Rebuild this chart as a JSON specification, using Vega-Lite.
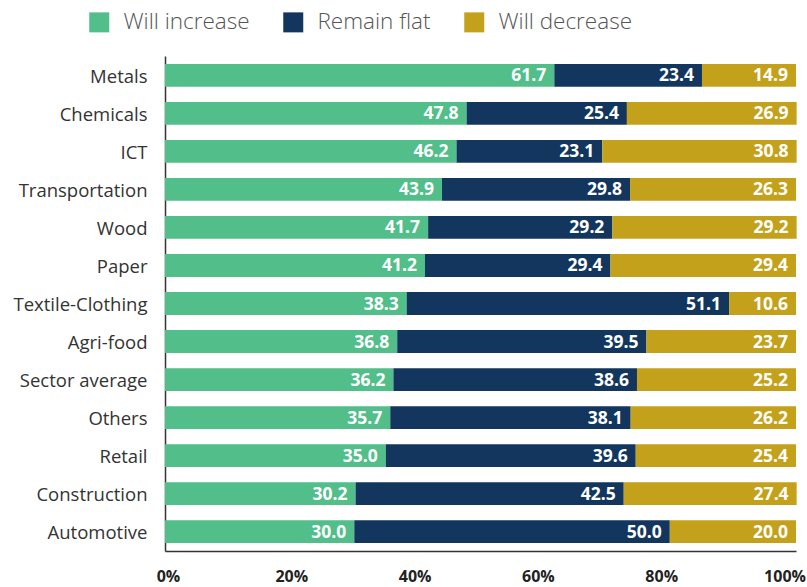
{
  "$schema": "https://vega.github.io/schema/vega-lite/v6.json",
  "width": 631,
  "height": 495,
  "autosize": "none",
  "padding": {"left": 165, "top": 56, "right": 11, "bottom": 36},
  "background": "white",
  "config": {"view": {"stroke": null}, "font": "Open Sans"},
  "data": {"values": [
    {"category": "Metals", "series": "Will increase", "value": 61.7},
    {"category": "Metals", "series": "Remain flat", "value": 23.4},
    {"category": "Metals", "series": "Will decrease", "value": 14.9},
    {"category": "Chemicals", "series": "Will increase", "value": 47.8},
    {"category": "Chemicals", "series": "Remain flat", "value": 25.4},
    {"category": "Chemicals", "series": "Will decrease", "value": 26.9},
    {"category": "ICT", "series": "Will increase", "value": 46.2},
    {"category": "ICT", "series": "Remain flat", "value": 23.1},
    {"category": "ICT", "series": "Will decrease", "value": 30.8},
    {"category": "Transportation", "series": "Will increase", "value": 43.9},
    {"category": "Transportation", "series": "Remain flat", "value": 29.8},
    {"category": "Transportation", "series": "Will decrease", "value": 26.3},
    {"category": "Wood", "series": "Will increase", "value": 41.7},
    {"category": "Wood", "series": "Remain flat", "value": 29.2},
    {"category": "Wood", "series": "Will decrease", "value": 29.2},
    {"category": "Paper", "series": "Will increase", "value": 41.2},
    {"category": "Paper", "series": "Remain flat", "value": 29.4},
    {"category": "Paper", "series": "Will decrease", "value": 29.4},
    {"category": "Textile-Clothing", "series": "Will increase", "value": 38.3},
    {"category": "Textile-Clothing", "series": "Remain flat", "value": 51.1},
    {"category": "Textile-Clothing", "series": "Will decrease", "value": 10.6},
    {"category": "Agri-food", "series": "Will increase", "value": 36.8},
    {"category": "Agri-food", "series": "Remain flat", "value": 39.5},
    {"category": "Agri-food", "series": "Will decrease", "value": 23.7},
    {"category": "Sector average", "series": "Will increase", "value": 36.2},
    {"category": "Sector average", "series": "Remain flat", "value": 38.6},
    {"category": "Sector average", "series": "Will decrease", "value": 25.2},
    {"category": "Others", "series": "Will increase", "value": 35.7},
    {"category": "Others", "series": "Remain flat", "value": 38.1},
    {"category": "Others", "series": "Will decrease", "value": 26.2},
    {"category": "Retail", "series": "Will increase", "value": 35.0},
    {"category": "Retail", "series": "Remain flat", "value": 39.6},
    {"category": "Retail", "series": "Will decrease", "value": 25.4},
    {"category": "Construction", "series": "Will increase", "value": 30.2},
    {"category": "Construction", "series": "Remain flat", "value": 42.5},
    {"category": "Construction", "series": "Will decrease", "value": 27.4},
    {"category": "Automotive", "series": "Will increase", "value": 30.0},
    {"category": "Automotive", "series": "Remain flat", "value": 50.0},
    {"category": "Automotive", "series": "Will decrease", "value": 20.0}
  ]},
  "transform": [
    {"calculate": "indexof(['Will increase','Remain flat','Will decrease'], datum.series)", "as": "ord"},
    {"stack": "value", "groupby": ["category"], "sort": [{"field": "ord", "order": "ascending"}], "as": ["x0", "x1"]}
  ],
  "encoding": {
    "y": {
      "field": "category", "type": "nominal", "sort": null,
      "scale": {"paddingInner": 0.4, "paddingOuter": 0.21},
      "axis": {"title": null, "ticks": false, "domain": true, "domainColor": "#333", "domainWidth": 1.5,
               "labelFontSize": 18.5, "labelColor": "#333", "labelPadding": 18, "labelFont": "Open Sans", "labelOffset": 1.5}
    }
  },
  "layer": [
    {
      "mark": {"type": "bar"},
      "encoding": {
        "x": {"field": "x0", "type": "quantitative", "scale": {"domain": [0, 100], "nice": false},
              "axis": {"title": null, "values": [0, 20, 40, 60, 80, 100], "labelExpr": "datum.value + '%'",
                       "grid": false, "ticks": false, "domainColor": "#333", "domainWidth": 1.5,
                       "labelFontSize": 16, "labelFontWeight": "bold", "labelColor": "#222",
                       "labelPadding": 17, "labelFlush": false, "labelAlign": "center",
                       "labelOffset": {"expr": "3 - 0.145 * datum.value"}}},
        "x2": {"field": "x1"},
        "color": {"field": "series", "type": "nominal",
                  "scale": {"domain": ["Will increase", "Remain flat", "Will decrease"],
                            "range": ["#52BE8A", "#13365E", "#C4A11B"]},
                  "legend": {"title": null, "orient": "none", "direction": "horizontal",
                             "legendX": -77, "legendY": -45, "symbolType": "square", "symbolSize": 400,
                             "symbolStrokeWidth": 0, "labelFontSize": 22.5, "labelColor": "#555",
                             "labelFont": "Open Sans", "labelFontWeight": 300, "columnPadding": 32, "labelOffset": 13}}
      }
    },
    {
      "mark": {"type": "text", "align": "right", "dx": -8, "dy": 1, "color": "white", "fontWeight": "bold", "fontSize": 17.5, "baseline": "middle"},
      "encoding": {
        "x": {"field": "x1", "type": "quantitative"},
        "text": {"field": "value", "type": "quantitative", "format": ".1f"}
      }
    }
  ]
}
